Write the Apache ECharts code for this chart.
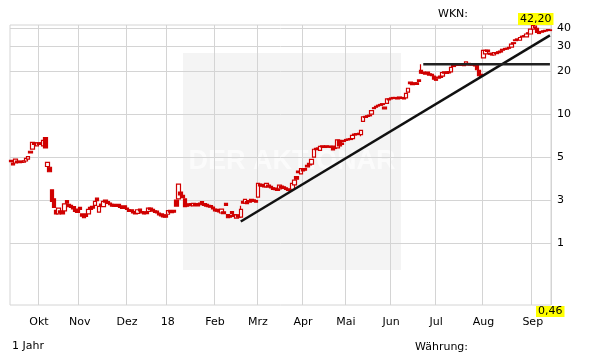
<!DOCTYPE html>
<html><head><meta charset="utf-8">
<script src="https://cdn.jsdelivr.net/npm/echarts@6/dist/echarts.min.js"></script>
<style>html,body{margin:0;padding:0;background:#fff}#c{width:611px;height:364px}</style>
</head><body><div id="c"></div>
<script>
// month blocks (trading days per month shown on the axis)
const monthLabels = ['', 'Okt', 'Nov', 'Dez', '18', 'Feb', 'Mrz', 'Apr', 'Mai', 'Jun', 'Jul', 'Aug', 'Sep'];
const monthDays = [13, 19, 22, 19, 22, 20, 21, 20, 21, 21, 22, 23, 9];

const opens = [
 4.75,4.55,4.55,4.7,4.68,4.7,4.62,4.7,4.85,5.5,5.7,6.3,6.0,
 6.3,6.3,6.0,6.85,4.3,4.25,2.95,2.55,2.12,2.0,2.1,2.08,2.1,2.48,2.33,2.3,2.25,2.16,2.12,
 2.22,2.0,1.95,2.0,2.0,2.22,2.26,2.3,2.58,2.06,2.34,2.25,2.5,2.44,2.38,2.33,2.33,2.32,2.33,2.28,2.25,2.28,
 2.2,2.14,2.14,2.08,2.06,2.02,2.16,2.08,2.06,2.07,2.08,2.2,2.15,2.1,2.09,2.03,2.0,1.97,1.96,
 1.99,2.12,2.1,2.12,2.5,2.55,2.85,2.7,2.55,2.33,2.35,2.36,2.28,2.36,2.34,2.38,2.44,2.36,2.33,2.3,2.29,2.23,
 2.16,2.15,2.13,2.03,2.07,2.37,1.98,1.95,2.08,1.98,1.87,1.96,1.9,2.45,2.38,2.44,2.48,2.53,2.51,2.48,
 2.62,3.24,3.22,3.19,3.1,3.18,3.12,3.05,3.04,3.0,3.0,3.14,3.1,3.05,3.0,2.96,2.98,3.2,3.66,4.0,3.82,
 4.1,4.15,4.38,4.52,4.47,5.0,5.76,5.8,5.58,6.0,5.95,6.0,5.97,5.95,5.97,5.85,5.8,6.55,6.28,6.55,
 6.65,6.7,6.75,6.75,7.25,7.3,7.35,7.2,8.9,9.65,9.75,9.85,10.0,11.1,11.35,11.55,11.7,11.85,11.2,11.9,12.8,
 13.0,13.1,13.1,13.0,13.2,13.1,13.0,13.0,14.3,16.8,16.5,16.6,16.6,17.4,20.3,19.7,19.5,19.7,19.2,19.0,18.5,
 17.6,18.2,18.5,18.5,19.8,19.7,19.9,19.8,22.0,22.4,22.6,22.4,22.5,22.3,22.2,22.7,22.5,22.6,22.2,22.0,20.3,19.0,
 24.8,26.5,28.2,26.8,26.5,26.0,27.0,27.4,27.7,28.5,28.9,29.0,29.4,29.5,31.7,33.2,33.7,33.0,35.2,35.5,34.8,37.2,36.5,
 39.5,40.5,40.0,37.5,38.0,38.4,38.7,39.2,39.0
];
const closes = [
 4.65,4.42,4.85,4.6,4.58,4.6,4.72,4.9,5.05,5.35,6.35,6.15,6.3,
 6.15,6.15,6.55,5.8,4.6,3.95,2.45,2.22,2.0,2.2,2.03,2.0,2.35,2.38,2.25,2.22,2.17,2.08,2.05,
 2.15,1.93,1.88,1.92,2.15,2.15,2.2,2.45,2.48,2.26,2.27,2.45,2.42,2.37,2.32,2.27,2.27,2.26,2.27,2.22,2.19,2.22,
 2.15,2.08,2.08,2.03,2.0,2.14,2.1,2.03,2.0,2.01,2.2,2.14,2.09,2.05,2.03,1.97,1.94,1.91,1.9,
 2.11,2.06,2.04,2.06,2.27,3.24,2.72,2.6,2.25,2.27,2.29,2.3,2.37,2.3,2.28,2.32,2.38,2.3,2.27,2.25,2.23,2.17,
 2.1,2.09,2.07,2.16,2.01,2.3,1.88,1.9,2.01,1.92,1.97,1.9,2.15,2.38,2.53,2.36,2.42,2.47,2.45,2.42,
 3.27,3.15,3.13,3.1,3.28,3.1,3.04,2.97,2.96,2.92,3.18,3.06,3.02,2.97,2.92,2.9,3.28,3.45,3.5,3.9,4.15,
 4.0,4.05,4.28,4.42,4.82,5.68,5.64,5.7,5.95,5.9,5.85,5.9,5.87,5.85,5.62,5.75,6.6,6.0,6.15,6.45,
 6.55,6.6,6.65,7.1,7.15,7.2,7.25,7.7,9.6,9.5,9.65,9.75,10.6,10.95,11.2,11.4,11.55,11.7,10.9,12.8,12.6,
 12.8,12.9,12.9,12.8,13.0,12.9,12.8,14.0,15.2,16.4,16.1,16.2,16.2,17.0,19.4,19.3,19.1,19.3,18.8,18.6,17.6,
 17.3,17.9,18.1,19.6,19.4,19.3,19.5,21.3,21.6,22.0,22.2,22.0,22.1,21.9,23.3,22.3,22.1,22.2,21.8,20.5,18.6,18.4,
 28.0,28.0,27.6,26.3,26.0,27.0,26.6,27.0,27.3,28.1,28.5,28.6,29.0,31.0,31.3,32.8,33.3,34.5,34.8,35.1,36.5,36.8,39.5,
 42.0,41.5,37.5,36.8,37.6,38.0,38.3,38.8,38.6
];
// visible wicks beyond the candle bodies
const wickHigh = {107: 2.28, 191: 22.4, 243: 42.2};
const wickLow = {163: 7.0};

// y grid levels and their printed labels
const gridLevels = [40, 30, 20, 10, 5, 2.5, 1.25];
const gridLabels = ['40', '30', '20', '10', '5', '3', '1'];
const yMin = 0.46, yMax = 42.2;
const yMinLabel = '0,46', yMaxLabel = '42,20';

// trend lines [categoryIndex, value]
const trendUp = [[107, 1.77], [251, 35.7]];
const resistance = [[192, 22.4], [251, 22.4]];

// build categories
const categories = [];
const monthStart = new Set();
monthDays.forEach((n, m) => {
  for (let d = 0; d < n; d++) {
    if (d === 0 && m > 0) monthStart.add(categories.length);
    categories.push((monthLabels[m] || 'Sep17') + '-' + (d + 1));
  }
});
const candleData = opens.map((o, i) => {
  const c = closes[i];
  const hi = wickHigh[i] != null ? wickHigh[i] : Math.max(o, c);
  const lo = wickLow[i] != null ? wickLow[i] : Math.min(o, c);
  return [o, c, lo, hi];
});

const FONT = 'DejaVu Sans';
const chart = echarts.init(document.getElementById('c'), null, {renderer: 'canvas'});
chart.setOption({
  animation: false,
  backgroundColor: '#ffffff',
  grid: {left: 10, right: 60, top: 25, bottom: 59, show: true, borderColor: '#d4d4d4', borderWidth: 1, backgroundColor: 'transparent'},
  xAxis: {
    type: 'category', data: categories, boundaryGap: true,
    axisLine: {show: false}, axisTick: {show: false},
    axisLabel: {
      interval: (i) => monthStart.has(i),
      formatter: (v) => v.split('-')[0],
      color: '#000', fontFamily: FONT, fontSize: 11, margin: 12
    },
    splitLine: {show: true, interval: (i) => monthStart.has(i), lineStyle: {color: '#d4d4d4', width: 1}}
  },
  yAxis: {
    type: 'log', logBase: 10, min: yMin, max: yMax, position: 'right',
    axisLine: {show: false}, axisTick: {show: false}, axisLabel: {show: false}, splitLine: {show: false}
  },
  graphic: [
    {type: 'rect', z: -10, shape: {x: 183, y: 53, width: 218, height: 217}, style: {fill: '#f4f4f4'}},
    {type: 'text', z: -9, x: 292, y: 162, style: {text: 'DER AKTIONÄR', font: 'bold 27px Liberation Sans', fill: '#fbfbfb', textAlign: 'center', textVerticalAlign: 'middle'}},
    {type: 'text', x: 438, y: 14, style: {text: 'WKN:', font: '11px ' + FONT, fill: '#000', textVerticalAlign: 'middle'}},
    {type: 'text', x: 518, y: 13, z: 10, style: {text: yMaxLabel, font: '11px ' + FONT, fill: '#000', backgroundColor: '#ffff00', padding: [1, 2, 0, 2]}},
    {type: 'text', x: 536, y: 306, z: 10, style: {text: yMinLabel, font: '11px ' + FONT, fill: '#000', backgroundColor: '#ffff00', padding: [0, 2, 0, 2]}},
    {type: 'text', x: 12, y: 346, style: {text: '1 Jahr', font: '11px ' + FONT, fill: '#000', textVerticalAlign: 'middle'}},
    {type: 'text', x: 415, y: 347, style: {text: 'Währung:', font: '11px ' + FONT, fill: '#000', textVerticalAlign: 'middle'}}
  ],
  series: [
    {
      type: 'line', data: categories.map(() => null), z: 1, silent: true, showSymbol: false,
      markLine: {
        silent: true, symbol: ['none', 'none'], z: 1,
        lineStyle: {color: '#d4d4d4', type: 'solid', width: 1},
        label: {position: 'end', distance: 6, color: '#000', fontFamily: FONT, fontSize: 11,
          formatter: (p) => gridLabels[gridLevels.indexOf(p.value)]},
        emphasis: {disabled: true},
        data: gridLevels.map(v => ({yAxis: v}))
      }
    },
    {
      type: 'candlestick', data: candleData, z: 3, barWidth: 4,
      itemStyle: {color: '#ffffff', color0: '#d00000', borderColor: '#d00000', borderColor0: '#d00000', borderWidth: 1.2}
    },
    {type: 'line', data: trendUp, z: 4, showSymbol: false, silent: true, lineStyle: {color: '#111', width: 2.5}},
    {type: 'line', data: resistance, z: 4, showSymbol: false, silent: true, lineStyle: {color: '#222', width: 2.5}}
  ]
});
</script></body></html>
